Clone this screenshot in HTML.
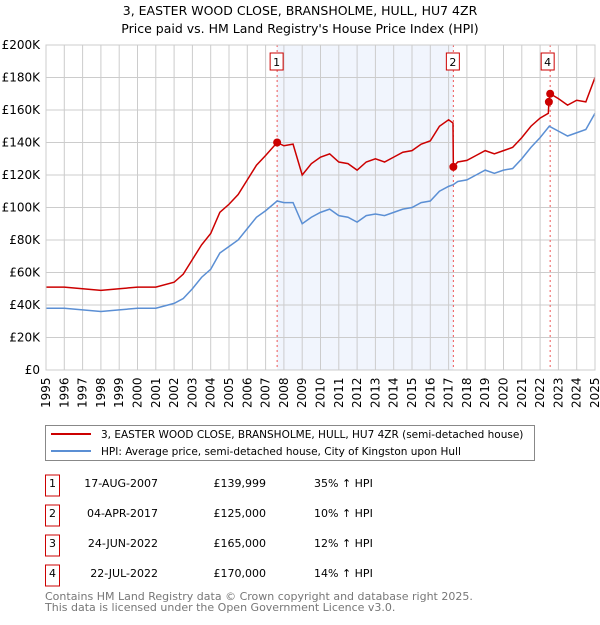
<!DOCTYPE html>
<html><head><meta charset="utf-8"><style>
body{margin:0;background:#fff;font-family:"Liberation Sans","DejaVu Sans",sans-serif;}
#wrap{position:relative;width:600px;height:620px;}
</style></head><body>
<div id="wrap">
<svg id="chart" width="600" height="620" font-family="DejaVu Sans, Liberation Sans, sans-serif"></svg>
</div>
<script>
const years=[1995,1996,1997,1998,1999,2000,2001,2002,2002.5,2003,2003.5,2004,2004.5,2005,2005.5,2006,2006.5,2007,2007.63,2008,2008.5,2009,2009.5,2010,2010.5,2011,2011.5,2012,2012.5,2013,2013.5,2014,2014.5,2015,2015.5,2016,2016.5,2017,2017.25,2017.5,2018,2018.5,2019,2019.5,2020,2020.5,2021,2021.5,2022,2022.5,2023,2023.5,2024,2024.5,2025];
const hpiValues=[38,38,37,36,37,38,38,41,44,50,57,62,72,76,80,87,94,98,104,103,103,90,94,97,99,95,94,91,95,96,95,97,99,100,103,104,110,113,114,116,117,120,123,121,123,124,130,137,143,150,147,144,146,148,158];
const priceYears=[1995,1996,1997,1998,1999,2000,2001,2002,2002.5,2003,2003.5,2004,2004.5,2005,2005.5,2006,2006.5,2007,2007.63,2008,2008.5,2009,2009.5,2010,2010.5,2011,2011.5,2012,2012.5,2013,2013.5,2014,2014.5,2015,2015.5,2016,2016.5,2017,2017.24,2017.26,2017.5,2018,2018.5,2019,2019.5,2020,2020.5,2021,2021.5,2022,2022.45,2022.48,2022.55,2023,2023.5,2024,2024.5,2025];
const priceValues=[51,51,50,49,50,51,51,54,59,68,77,84,97,102,108,117,126,132,140,138,139,120,127,131,133,128,127,123,128,130,128,131,134,135,139,141,150,154,152,125,128,129,132,135,133,135,137,143,150,155,158,165,170,167,163,166,165,180];
const yTicks=[0,20,40,60,80,100,120,140,160,180,200];
const saleYears=[2007.63,2017.26,2022.48,2022.55];
const saleValues=[139.999,125,165,170];
const saleLabels=["1","2","3","4"];
const NS="http://www.w3.org/2000/svg";
const svg=document.getElementById('chart');
const L=46,R=595,T=45,B=370;
const xS=y=>L+(y-1995)/30*(R-L);
const yS=v=>B-v/200*(B-T);
function el(t,a,p){const e=document.createElementNS(NS,t);for(const k in a)e.setAttribute(k,a[k]);(p||svg).appendChild(e);return e;}
function tx(x,y,s,a,p){const e=el('text',Object.assign({x:x,y:y},a),p);e.textContent=s;return e;}
let t1=tx(300,15,"3, EASTER WOOD CLOSE, BRANSHOLME, HULL, HU7 4ZR",{'text-anchor':'middle','font-size':'12.5'});

let t2=tx(300,33,"Price paid vs. HM Land Registry's House Price Index (HPI)",{'text-anchor':'middle','font-size':'12.5'});

let sh=el('rect',{x:xS(saleYears[0]),y:T,width:xS(saleYears[1])-xS(saleYears[0]),height:B-T,fill:'#eef3fd',opacity:0.8});

for(let y=1995;y<=2025;y++){const g=el('line',{x1:xS(y),x2:xS(y),y1:T,y2:B,stroke:'#ccc','stroke-width':1});

const lb=tx(0,0,String(y),{transform:`translate(${xS(y)+4},${B+38}) rotate(-90)`,'font-size':'12'});
}
yTicks.forEach(v=>{const g=el('line',{x1:L,x2:R,y1:yS(v),y2:yS(v),stroke:'#ccc','stroke-width':1});

const lb=tx(L-6,yS(v)+4,v===0?'£0':'£'+v+'K',{'text-anchor':'end','font-size':'12'});
});
saleYears.forEach((s,i)=>{if(i===2)return;const v=el('line',{x1:xS(s),x2:xS(s),y1:T,y2:B,stroke:'#e55',"stroke-dasharray":'2,3','stroke-width':1});
});
const hp=el('polyline',{points:years.map((y,i)=>xS(y)+','+yS(hpiValues[i])).join(' '),fill:'none',stroke:'#5b8fd4','stroke-width':1.5});

const pp=el('polyline',{points:priceYears.map((y,i)=>xS(y)+','+yS(priceValues[i])).join(' '),fill:'none',stroke:'#cc0000','stroke-width':1.5});

saleYears.forEach((s,i)=>{const c=el('circle',{cx:xS(s),cy:yS(saleValues[i]),r:4,fill:'#cc0000'});

if(i===2)return;const bx=xS(s)-(i===3?2:0);
const r=el('rect',{x:bx-7,y:53,width:13,height:17,fill:'#fff',stroke:'#cc0000'});

const lt=tx(bx-0.5,66,saleLabels[i],{'text-anchor':'middle','font-size':'11'});
});
const ax=el('rect',{x:L,y:T,width:R-L,height:B-T,fill:'none',stroke:'#ccc'});

// legend
const lg=el('rect',{x:45.5,y:425.5,width:489,height:35,fill:'#fff',stroke:'#888'});

let l1=el('line',{x1:51,x2:91,y1:434,y2:434,stroke:'#cc0000','stroke-width':2});
let l2=el('line',{x1:51,x2:91,y1:451,y2:451,stroke:'#5b8fd4','stroke-width':2});
let lt1=tx(101,438,"3, EASTER WOOD CLOSE, BRANSHOLME, HULL, HU7 4ZR (semi-detached house)",{'font-size':'10.5'});
let lt2=tx(101,455,"HPI: Average price, semi-detached house, City of Kingston upon Hull",{'font-size':'10.5'});
const dates=["17-AUG-2007","04-APR-2017","24-JUN-2022","22-JUL-2022"];
const prices=["£139,999","£125,000","£165,000","£170,000"];
const pcts=["35% ↑ HPI","10% ↑ HPI","12% ↑ HPI","14% ↑ HPI"];
dates.forEach((d,i)=>{const y=487+i*30;
const b=el('rect',{x:45.5,y:y-12,width:14,height:21,fill:'#fff',stroke:'#cc0000'});
const n=tx(52.5,y,saleLabels[i],{'text-anchor':'middle','font-size':'11'});
const dd=tx(158,y,d,{'text-anchor':'end','font-size':'11'});
const pr=tx(266,y,prices[i],{'text-anchor':'end','font-size':'11'});
const pc=tx(314,y,pcts[i],{'font-size':'11'});});
const f1=tx(45,600,"Contains HM Land Registry data © Crown copyright and database right 2025.",{'font-size':'11',fill:'#777'});
const f2=tx(45,611,"This data is licensed under the Open Government Licence v3.0.",{'font-size':'11',fill:'#777'});
</script>
</body></html>
